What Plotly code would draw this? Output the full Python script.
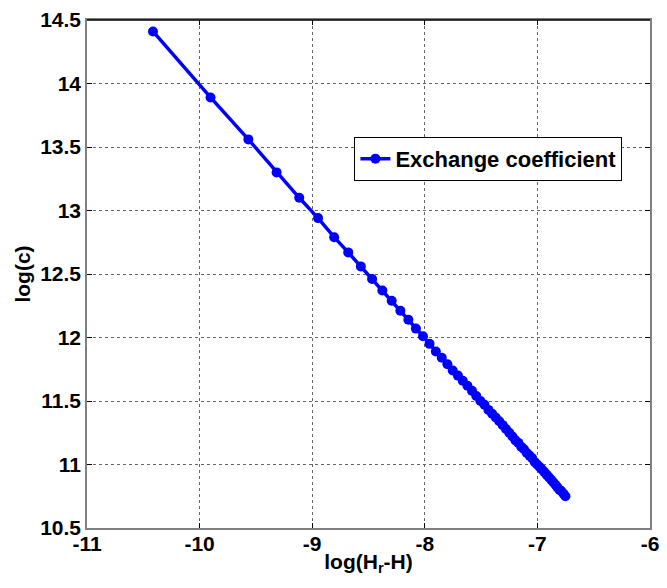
import plotly.graph_objects as go

# Data
log_dH = [-10.414, -9.903, -9.567, -9.316, -9.115, -8.948, -8.805, -8.680, -8.568, -8.468,
          -8.377, -8.294, -8.217, -8.146, -8.079, -8.016, -7.958, -7.902, -7.849, -7.799,
          -7.752, -7.706, -7.663, -7.621, -7.581, -7.543, -7.506, -7.470, -7.435, -7.402,
          -7.370, -7.339, -7.308, -7.279, -7.250, -7.222, -7.195, -7.169, -7.144, -7.119,
          -7.094, -7.070, -7.047, -7.024, -7.002, -6.980, -6.959, -6.938, -6.918, -6.898,
          -6.878, -6.859, -6.840, -6.822, -6.803, -6.786, -6.768, -6.751]
log_c = [14.41, 13.89, 13.56, 13.30, 13.10, 12.94, 12.79, 12.67, 12.56, 12.46,
         12.37, 12.29, 12.21, 12.14, 12.07, 12.01, 11.95, 11.89, 11.84, 11.79,
         11.74, 11.70, 11.66, 11.62, 11.58, 11.54, 11.50, 11.47, 11.43, 11.40,
         11.37, 11.34, 11.31, 11.28, 11.25, 11.22, 11.19, 11.17, 11.14, 11.12,
         11.09, 11.07, 11.05, 11.02, 11.00, 10.98, 10.96, 10.94, 10.92, 10.90,
         10.88, 10.86, 10.84, 10.82, 10.80, 10.79, 10.77, 10.75]

x_ticks = [-11, -10, -9, -8, -7, -6]
x_tick_labels = ["-11", "-10", "-9", "-8", "-7", "-6"]
y_ticks = [10.5, 11, 11.5, 12, 12.5, 13, 13.5, 14, 14.5]
y_tick_labels = ["10.5", "11", "11.5", "12", "12.5", "13", "13.5", "14", "14.5"]

FONT = "Liberation Sans, Arial, sans-serif"
SIZE = 21

fig = go.Figure()
fig.add_trace(go.Scatter(
    x=log_dH, y=log_c, mode="lines+markers", name="<b>Exchange coefficient</b>",
    line=dict(color="#0000FF", width=3.5),
    marker=dict(color="#0000FF", size=10),
))

axis_common = dict(
    showline=True, linecolor="#808080", linewidth=1.5, mirror="ticks",
    ticks="inside", ticklen=5, tickcolor="#000000", tickwidth=1,
    showgrid=True, gridcolor="#666666", gridwidth=1, griddash="dot",
    zeroline=False,
    tickfont=dict(family=FONT, size=SIZE, color="black"),
)

fig.update_xaxes(
    range=[-11, -6], tickvals=x_ticks,
    ticktext=["<b>%s</b>" % t for t in x_tick_labels],
    ticklabelstandoff=-4,
    title=dict(text="<b>log(H<sub>r</sub>-H)</b>", standoff=0,
               font=dict(family=FONT, size=SIZE, color="black")),
    **axis_common,
)
fig.update_yaxes(
    range=[10.5, 14.5], tickvals=y_ticks,
    ticktext=["<b>%s</b>" % t for t in y_tick_labels],
    title=dict(text="<b>log(c)</b>", standoff=4,
               font=dict(family=FONT, size=SIZE, color="black")),
    **axis_common,
)

fig.add_shape(type="line", xref="paper", yref="paper", x0=0, x1=1, y0=1, y1=1,
              line=dict(color="black", width=1.5))

fig.update_layout(
    width=667, height=588,
    margin=dict(l=87, r=8, t=18, b=60),
    paper_bgcolor="white", plot_bgcolor="white",
    showlegend=True,
    legend=dict(
        x=0.475, y=0.77, xanchor="left", yanchor="top",
        bgcolor="white", bordercolor="black", borderwidth=1,
        font=dict(family=FONT, size=22, color="black"),
        itemwidth=30, tracegroupgap=0,
    ),
)

fig.write_html("out.html")
